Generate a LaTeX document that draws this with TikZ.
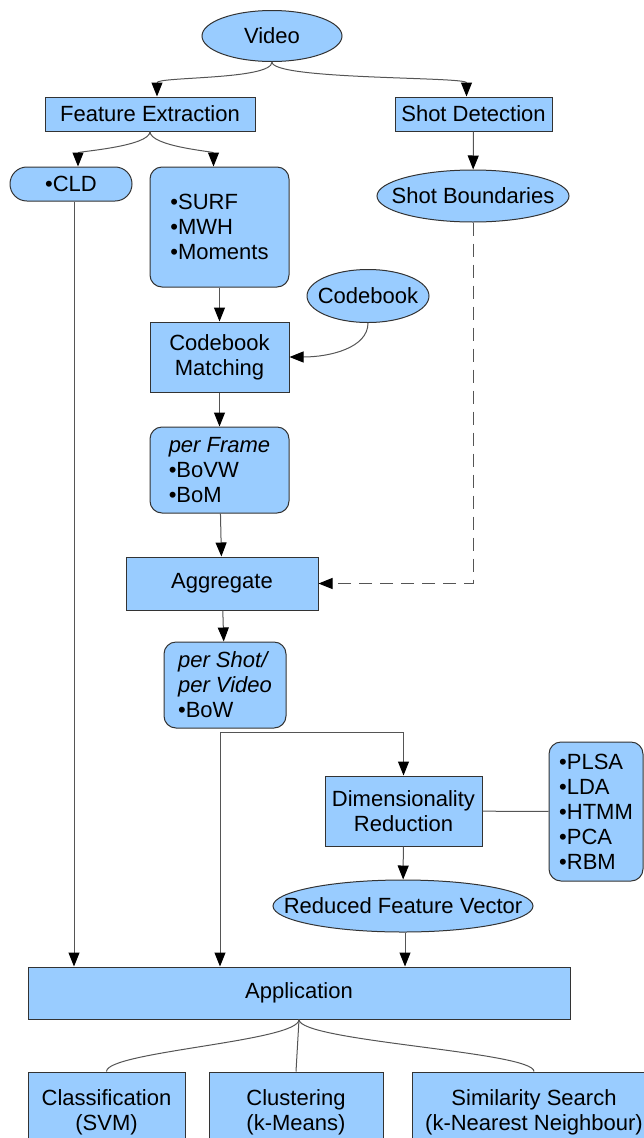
\documentclass[tikz,border=0pt]{standalone}
\usepackage{fontspec}
\setmainfont{Liberation Sans}
\usetikzlibrary{shapes.geometric, arrows.meta}
\definecolor{node area}{HTML}{99CCFF}
\definecolor{node edge}{HTML}{333333}
\definecolor{line edge}{HTML}{555555}
\tikzset{
  every node/.style={font=\fontsize{22}{25}\selectfont, inner sep=0pt},
  base/.style={fill=node area, draw=node edge, line width=1pt},
  box/.style={base, rectangle, align=center},
  rbox/.style={base, rectangle, rounded corners=12pt, align=left},
  oval/.style={base, ellipse, inner xsep=-60pt, inner ysep=-15pt},
  flow/.style={draw=line edge, line width=1pt, -{Triangle[length=14pt, width=11pt, color=black]}},
  tflow/.style={flow, dash pattern=on 13pt off 8pt},
  plain/.style={draw=line edge, line width=1pt}
}

\begin{document}
\begin{tikzpicture}[x=1pt, y=-1pt]
    \useasboundingbox (0,0) rectangle (644,1138);
    \clip (0,0) rectangle (644,1138);
    % nodes
    \node[oval, minimum width=140pt, minimum height=51pt] (video) at (272,36) {Video};
    \node[box, minimum width=210pt, minimum height=34pt] (fe) at (150,114) {Feature Extraction};
    \node[box, minimum width=157pt, minimum height=34pt] (sd) at (473.5,114) {Shot Detection};
    \node[rbox, rounded corners=16.9pt, minimum width=122pt, minimum height=34pt] (cld) at (71,184) {•CLD};
    \node[rbox, minimum width=139pt, minimum height=120pt] (surf) at (219.5,227) {•SURF\\•MWH\\•Moments};
    \node[oval, minimum width=192pt, minimum height=52pt] (sb) at (473,196) {Shot Boundaries};
    \node[oval, minimum width=122pt, minimum height=53pt] (cb) at (368,296) {Codebook};
    \node[box, minimum width=139pt, minimum height=70pt] (cm) at (219.5,357) {Codebook\\Matching};
    \node[rbox, minimum width=139pt, minimum height=86pt] (pf) at (219.5,470) {\textit{per Frame}\\•BoVW\\•BoM};
    \node[box, minimum width=192pt, minimum height=53pt] (agg) at (222,583.5) {Aggregate};
    \node[rbox, minimum width=122pt, minimum height=86pt] (ps) at (225,685) {\textit{per Shot/}\\\textit{per Video}\\•BoW};
    \node[box, minimum width=157pt, minimum height=70pt] (dr) at (403.5,811) {Dimensionality\\Reduction};
    \node[rbox, minimum width=94pt, minimum height=139pt] (methods) at (596,811.5) {•PLSA\\•LDA\\•HTMM\\•PCA\\•RBM};
    \node[oval, minimum width=260pt, minimum height=52pt] (rfv) at (403,906) {Reduced Feature Vector};
    \node[box, minimum width=542pt, minimum height=52pt] (app) at (299,993) {Application};
    \node[box, minimum width=157pt, minimum height=80pt] (cls) at (106.5,1112) {Classification\\(SVM)};
    \node[box, minimum width=174pt, minimum height=80pt] (clu) at (296,1112) {Clustering\\(k-Means)};
    \node[box, minimum width=244pt, minimum height=80pt] (sim) at (534,1112) {Similarity Search\\(k-Nearest Neighbour)};
    \coordinate (split) at (220,732);
    % connectors
    \draw[flow] (video.south) .. controls +(0,18) and +(0,-20) .. ([xshift=7pt]fe.north);
    \draw[flow] (video.south) .. controls +(0,18) and +(0,-20) .. ([xshift=-7pt]sd.north);
    \draw[flow] (fe.south) .. controls +(0,15) and +(0,-15) .. ([xshift=7pt]cld.north);
    \draw[flow] (fe.south) .. controls +(0,15) and +(0,-15) .. ([xshift=-6pt]surf.north);
    \draw[flow] (sd) -- (sb);
    \draw[flow] (surf) -- (cm);
    \draw[flow] (cb.south) .. controls +(0,25) and +(40,0) .. (cm.east);
    \draw[flow] (cm) -- (pf);
    \draw[flow] (pf) -- (agg);
    \draw[tflow] (sb.south) |- (agg.east);
    \draw[flow] (agg) -- (ps);
    \draw[flow] (split) -- (split |- app.north);
    \draw[flow] (split) -| (dr.north);
    \draw[plain] (dr) -- (methods);
    \draw[flow] (dr) -- (rfv);
    \draw[flow] ([xshift=3pt]cld.south) -- ([xshift=3pt]cld.south |- app.north);
    \draw[flow] ([xshift=2pt]rfv.south) -- ([xshift=2pt]rfv.south |- app.north);
    \draw[plain] (app.south) .. controls +(0,22) and +(0,-20) .. (cls.north);
    \draw[plain] (app.south) -- (clu.north);
    \draw[plain] (app.south) .. controls +(0,22) and +(0,-20) .. (sim.north);
\end{tikzpicture}
\end{document}
